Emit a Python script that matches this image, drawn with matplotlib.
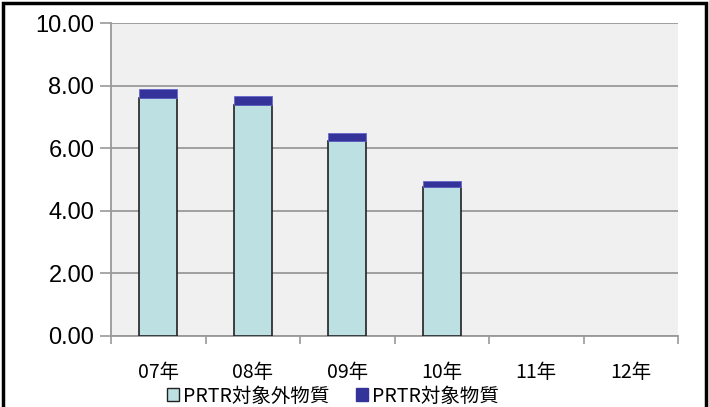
import matplotlib
matplotlib.use("Agg")
import matplotlib.pyplot as plt
from matplotlib.patches import Rectangle, Patch
import numpy as np

# Data
years = ["07年", "08年", "09年", "10年", "11年", "12年"]
non_prtr = [7.59, 7.37, 6.23, 4.76, np.nan, np.nan]   # PRTR対象外物質
prtr = [0.30, 0.30, 0.25, 0.19, np.nan, np.nan]       # PRTR対象物質
yticks = [0, 2, 4, 6, 8, 10]

plt.rcParams["font.family"] = ["Liberation Sans", "Noto Sans CJK JP", "DejaVu Sans"]
cjk = ["Noto Sans CJK JP", "DejaVu Sans"]

W, H = 709, 407
fig = plt.figure(figsize=(W / 100, H / 100), dpi=100)
ax = fig.add_axes([111 / W, (H - 336) / H, 567 / W, 313 / H])
ax.set_facecolor("#f0f0f0")

x = np.arange(len(years))
light = "#bde0e3"
dark = "#333399"
ax.bar(x, non_prtr, width=0.4, color=light, edgecolor="#222222", linewidth=1.2, zorder=3)
ax.bar(x, prtr, width=0.4, bottom=non_prtr, color=dark, edgecolor="#6666cc",
       linewidth=0.6, zorder=3)

ax.set_xlim(-0.5, 5.5)
ax.set_ylim(0, 10)
ax.set_yticks(yticks)
ax.set_yticklabels([f"{v:.2f}" for v in yticks], fontsize=17)
ax.yaxis.grid(True, color="#999999", linewidth=1.3, zorder=1)
ax.set_axisbelow(True)

ax.set_xticks(x)
ax.set_xticklabels(years, fontsize=14, family=cjk)
ax.set_xticks(np.arange(-0.5, 6.0, 1.0), minor=True)
ax.tick_params(axis="x", which="major", length=0, pad=19)
ax.tick_params(axis="x", which="minor", length=6, width=1.2, color="#999999")
ax.tick_params(axis="y", length=8, width=1.2, color="#999999", pad=4)

for side in ["top", "right"]:
    ax.spines[side].set_visible(False)
for side in ["left", "bottom"]:
    ax.spines[side].set_color("#999999")
    ax.spines[side].set_linewidth(1.3)

handles = [Patch(facecolor=light, edgecolor="#222222", linewidth=1.0, label="PRTR対象外物質"),
           Patch(facecolor=dark, edgecolor=dark, label="PRTR対象物質")]
fig.legend(handles=handles, loc="center", bbox_to_anchor=(333 / W, (H - 396) / H),
           ncol=2, frameon=False, handlelength=0.6, handleheight=0.6,
           handletextpad=0.2, columnspacing=1.4, borderpad=0,
           prop={"family": cjk, "size": 14})

# outer frame of the original chart image
fig.patches.append(Rectangle((3 / W, -0.05), 703 / W, (H - 3) / H + 0.05,
                             transform=fig.transFigure, fill=False,
                             edgecolor="black", linewidth=2.5))

fig.savefig("out.png", dpi=100)
